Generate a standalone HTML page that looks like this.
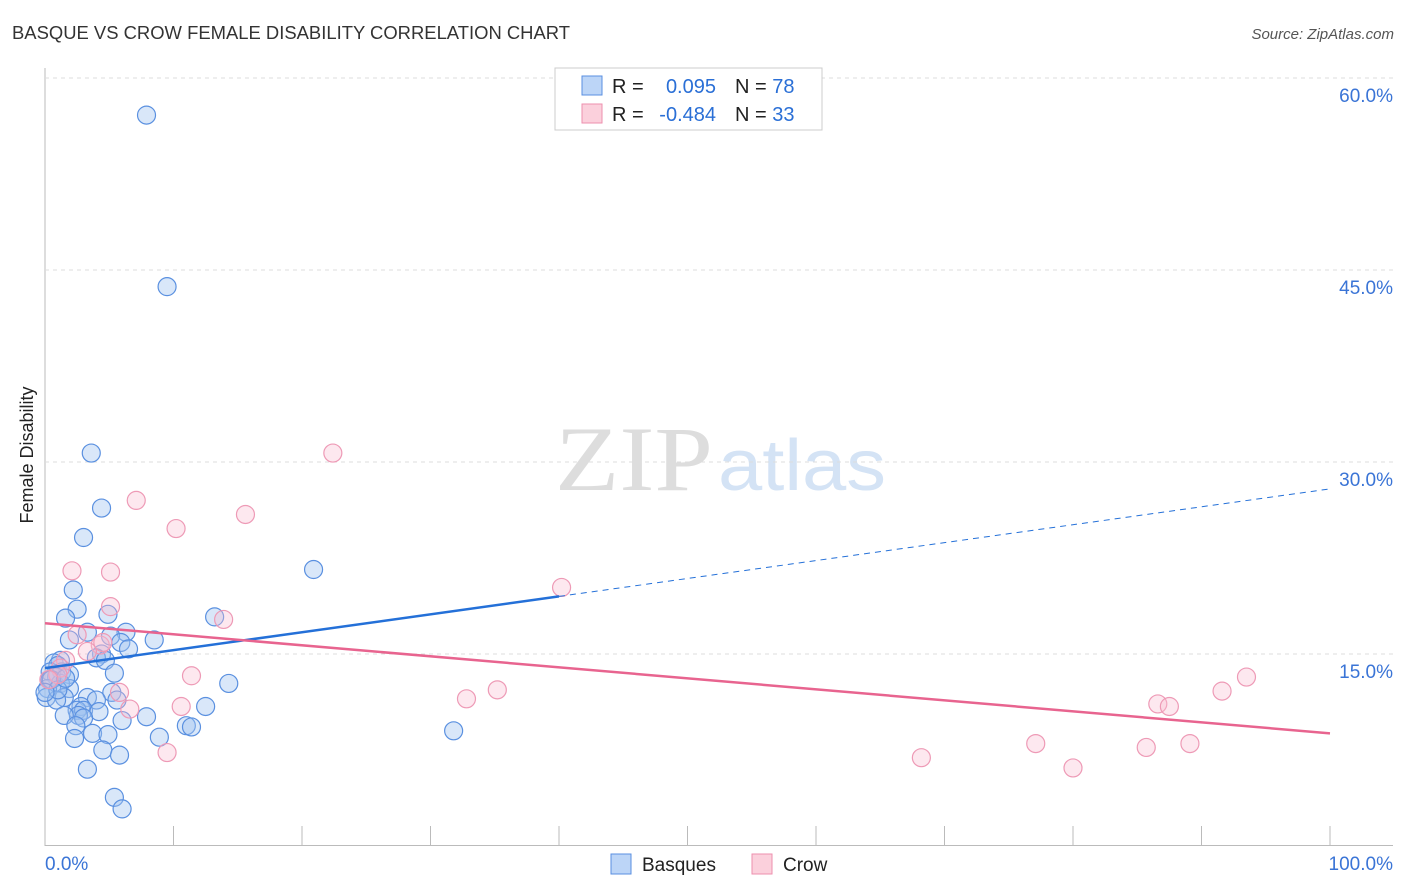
<!DOCTYPE html>
<html><head><meta charset="utf-8">
<style>
body{margin:0;background:#fff;font-family:"Liberation Sans",sans-serif;}
svg{display:block}
</style></head>
<body>
<svg id="c" width="1406" height="892" xmlns="http://www.w3.org/2000/svg">
<text x="12" y="39" font-size="18" fill="#333" textLength="558" lengthAdjust="spacingAndGlyphs">BASQUE VS CROW FEMALE DISABILITY CORRELATION CHART</text>
<text x="1394" y="39" font-size="15" fill="#555" font-style="italic" text-anchor="end">Source: ZipAtlas.com</text>
<text x="33" y="455" font-size="18" fill="#222" text-anchor="middle" transform="rotate(-90 33 455)">Female Disability</text>
<g>
<text x="555" y="490" font-size="92" font-family="Liberation Serif,serif" fill="#ddd" textLength="158" lengthAdjust="spacingAndGlyphs">ZIP</text>
<text x="718" y="490" font-size="72" fill="#d4e3f5" textLength="168" lengthAdjust="spacingAndGlyphs">atlas</text>
</g>
<g id="grid"></g>
<g id="marks"></g>
<g>
<rect x="555" y="68" width="267" height="62" fill="#fff" stroke="#ccc"/>
<rect x="582" y="76" width="20" height="19" fill="#bcd5f7" stroke="#5a8fe0"/>
<rect x="582" y="104" width="20" height="19" fill="#fbd0dc" stroke="#ee8fae"/>
<text x="612" y="93" font-size="20" fill="#222">R =</text>
<text x="716" y="93" font-size="20" fill="#2a6fd6" text-anchor="end">0.095</text>
<text x="735" y="93" font-size="20" fill="#222">N = <tspan fill="#2a6fd6">78</tspan></text>
<text x="612" y="121" font-size="20" fill="#222">R =</text>
<text x="716" y="121" font-size="20" fill="#2a6fd6" text-anchor="end">-0.484</text>
<text x="735" y="121" font-size="20" fill="#222">N = <tspan fill="#2a6fd6">33</tspan></text>
</g>
<g>
<rect x="611" y="854" width="20" height="20" fill="#bcd5f7" stroke="#5a8fe0"/>
<text x="642" y="871" font-size="19" fill="#222">Basques</text>
<rect x="752" y="854" width="20" height="20" fill="#fbd0dc" stroke="#ee8fae"/>
<text x="783" y="871" font-size="19" fill="#222">Crow</text>
</g>
</svg>
<script>
const yTicks=[15,30,45,60];
const yTickLabels=["15.0%","30.0%","45.0%","60.0%"];
const xTicks=[0,10,20,30,40,50,60,70,80,90,100];
const blueX=[7.9,9.5,3.6,4.4,3.0,20.9,2.2,2.5,1.6,4.9,13.2,6.3,8.5,1.9,3.3,5.1,5.9,6.5,4.4,4.0,4.7,1.2,0.7,1.0,0.4,1.3,1.9,5.4,0.9,0.4,1.2,0.2,1.9,5.2,14.3,3.3,1.5,4.0,5.6,0.1,0.9,2.8,2.5,3.0,4.2,12.5,2.6,3.0,1.5,7.9,6.0,11.0,11.4,2.4,3.7,4.9,2.3,8.9,4.5,5.8,3.3,5.4,6.0,31.8,0.5,1.0,1.6,0.0];
const blueY=[57.1,43.7,30.7,26.4,24.1,21.6,20.0,18.5,17.8,18.1,17.9,16.7,16.1,16.1,16.7,16.4,15.9,15.4,15.0,14.7,14.5,14.5,14.3,14.1,13.6,13.6,13.4,13.5,13.2,13.0,12.7,12.3,12.3,12.0,12.7,11.6,11.6,11.4,11.4,11.6,11.4,10.9,10.6,10.6,10.5,10.9,10.2,10.0,10.2,10.1,9.8,9.4,9.3,9.4,8.8,8.7,8.4,8.5,7.5,7.1,6.0,3.8,2.9,9.0,13.0,12.2,13.1,12.0];
const pinkX=[22.4,7.1,15.6,10.2,2.1,5.1,40.2,5.1,13.9,2.5,4.3,3.3,1.6,1.2,1.0,11.4,93.5,35.2,32.8,91.6,86.6,87.5,10.6,6.6,5.8,77.1,89.1,85.7,68.2,80.0,9.5,4.5,0.3];
const pinkY=[30.7,27.0,25.9,24.8,21.5,21.4,20.2,18.7,17.7,16.5,15.7,15.2,14.5,13.9,13.4,13.3,13.2,12.2,11.5,12.1,11.1,10.9,10.9,10.7,12.0,8.0,8.0,7.7,6.9,6.1,7.3,15.9,13.0];
const blueTrend=[13.9,27.9];
const pinkTrend=[17.4,8.8];
const NS="http://www.w3.org/2000/svg";
const X=v=>45+v*12.85, Y=v=>846-v*12.8;
function mk(t,a,p){const e=document.createElementNS(NS,t);for(const k in a)e.setAttribute(k,a[k]);p.appendChild(e);return e;}
const g=document.getElementById('grid'),m=document.getElementById('marks');
let ax=mk('line',{x1:45,y1:68,x2:45,y2:846,stroke:'#bbb'},g);


let bx=mk('line',{x1:45,y1:845.5,x2:1393,y2:845.5,stroke:'#bbb'},g);


yTicks.forEach((t,i)=>{
 let l=mk('line',{x1:45,y1:Y(t),x2:1393,y2:Y(t),stroke:'#ddd','stroke-dasharray':'4,4'},g);
 
 
 let tx=mk('text',{x:1393,y:Y(t)+24,'font-size':19,fill:'#3a74d6','text-anchor':'end'},g);
 tx.textContent=yTickLabels[i];
 
 
});
xTicks.forEach(t=>{
 let l=mk('line',{x1:X(t),y1:826,x2:X(t),y2:846,stroke:'#bbb'},g);
 
 
});
let x0=mk('text',{x:45,y:870,'font-size':19,fill:'#3a74d6'},g);x0.textContent='0.0%';


let x1=mk('text',{x:1393,y:870,'font-size':19,fill:'#3a74d6','text-anchor':'end'},g);x1.textContent='100.0%';


blueX.forEach((v,i)=>{
 let c=mk('circle',{cx:X(v),cy:Y(blueY[i]),r:9,fill:'rgba(160,195,240,0.4)',stroke:'#5a90e0','stroke-width':1.2},m);
 
 
});
pinkX.forEach((v,i)=>{
 let c=mk('circle',{cx:X(v),cy:Y(pinkY[i]),r:9,fill:'rgba(248,190,208,0.35)',stroke:'#ee9ab6','stroke-width':1.2},m);
 
 
});
const by=x=>blueTrend[0]+(blueTrend[1]-blueTrend[0])*x/100;
let b1=mk('line',{x1:X(0),y1:Y(by(0)),x2:X(40),y2:Y(by(40)),stroke:'#2470d8','stroke-width':2.5},m);


let b2=mk('line',{x1:X(40),y1:Y(by(40)),x2:X(100),y2:Y(by(100)),stroke:'#2470d8','stroke-width':1,'stroke-dasharray':'6,5'},m);


let p1=mk('line',{x1:X(0),y1:Y(pinkTrend[0]),x2:X(100),y2:Y(pinkTrend[1]),stroke:'#e8648f','stroke-width':2.5},m);


</script>
</body></html>
